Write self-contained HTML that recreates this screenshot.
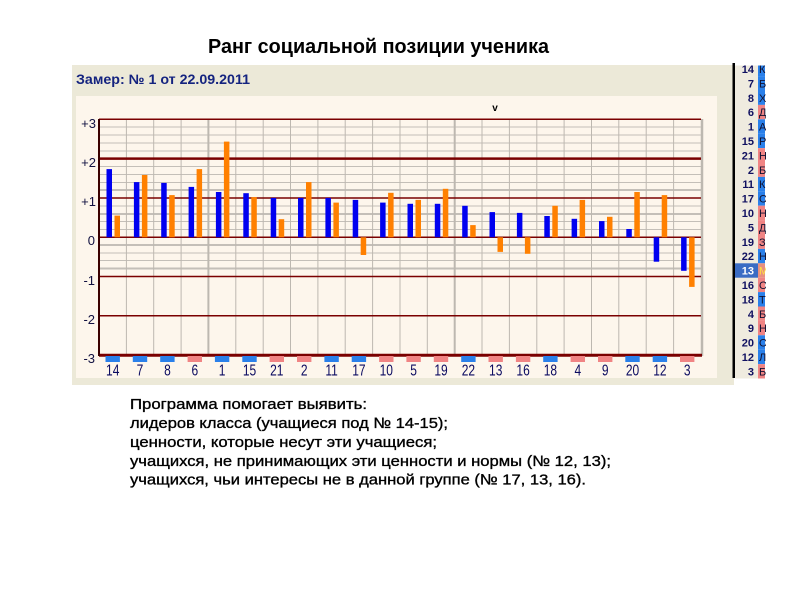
<!DOCTYPE html>
<html><head><meta charset="utf-8"><style>
html,body{margin:0;padding:0;background:#fff;}
svg{display:block;}
</style></head><body>
<svg width="800" height="600" viewBox="0 0 800 600" xmlns="http://www.w3.org/2000/svg" font-family="Liberation Sans, DejaVu Sans, sans-serif">
<rect width="800" height="600" fill="#fff"/>
<text x="208" y="53" font-size="20" font-weight="bold" fill="#000" textLength="341" lengthAdjust="spacingAndGlyphs">Ранг социальной позиции ученика</text>
<rect x="72" y="65" width="662" height="320" fill="#ECE9D8"/>
<text x="76" y="84" font-size="13.5" font-weight="bold" fill="#14237f" textLength="174" lengthAdjust="spacingAndGlyphs">Замер: № 1 от 22.09.2011</text>
<rect x="76" y="96" width="641" height="282" fill="#FDF6EC"/>
<text x="495" y="111" font-size="10" font-weight="bold" fill="#000" text-anchor="middle">v</text>
<g stroke="#C4BFB8" stroke-width="1">
<line x1="99" x2="702" y1="127" y2="127"/><line x1="99" x2="702" y1="135" y2="135"/><line x1="99" x2="702" y1="143" y2="143"/><line x1="99" x2="702" y1="151" y2="151"/>
<line x1="99" x2="702" y1="166.5" y2="166.5"/><line x1="99" x2="702" y1="174.5" y2="174.5"/><line x1="99" x2="702" y1="182.5" y2="182.5"/><line x1="99" x2="702" y1="190" y2="190" stroke-width="2"/>
<line x1="99" x2="702" y1="206" y2="206"/><line x1="99" x2="702" y1="214" y2="214" stroke-width="2"/><line x1="99" x2="702" y1="221.5" y2="221.5"/><line x1="99" x2="702" y1="229.5" y2="229.5"/>
<line x1="99" x2="702" y1="245" y2="245" stroke-width="2"/><line x1="99" x2="702" y1="253" y2="253"/><line x1="99" x2="702" y1="260.5" y2="260.5"/><line x1="99" x2="702" y1="268.5" y2="268.5" stroke-width="2"/>
</g>
<g stroke="#BDB8B0" stroke-width="1">
<line x1="126.4" x2="126.4" y1="119" y2="355"/><line x1="153.7" x2="153.7" y1="119" y2="355"/><line x1="181.1" x2="181.1" y1="119" y2="355"/><line x1="208.4" x2="208.4" y1="119" y2="355" stroke-width="2"/><line x1="235.8" x2="235.8" y1="119" y2="355"/><line x1="263.2" x2="263.2" y1="119" y2="355"/><line x1="290.5" x2="290.5" y1="119" y2="355"/><line x1="317.9" x2="317.9" y1="119" y2="355"/><line x1="345.2" x2="345.2" y1="119" y2="355"/><line x1="372.6" x2="372.6" y1="119" y2="355"/><line x1="400" x2="400" y1="119" y2="355"/><line x1="427.3" x2="427.3" y1="119" y2="355"/><line x1="454.7" x2="454.7" y1="119" y2="355" stroke-width="2"/><line x1="482" x2="482" y1="119" y2="355"/><line x1="509.4" x2="509.4" y1="119" y2="355"/><line x1="536.8" x2="536.8" y1="119" y2="355"/><line x1="564.1" x2="564.1" y1="119" y2="355"/><line x1="591.5" x2="591.5" y1="119" y2="355"/><line x1="618.8" x2="618.8" y1="119" y2="355"/><line x1="646.2" x2="646.2" y1="119" y2="355"/><line x1="673.6" x2="673.6" y1="119" y2="355"/><line x1="702" x2="702" y1="119" y2="356" stroke-width="2.5"/>
</g>
<g stroke="#7A0000">
<line x1="99" x2="701" y1="119.3" y2="119.3" stroke-width="1.5"/>
<line x1="99" x2="701" y1="158.6" y2="158.6" stroke-width="2.5"/>
<line x1="99" x2="701" y1="198" y2="198" stroke-width="1.5"/>
<line x1="99" x2="701" y1="237.3" y2="237.3" stroke-width="1.5"/>
<line x1="99" x2="701" y1="276.5" y2="276.5" stroke-width="1.5"/>
<line x1="99" x2="701" y1="315.8" y2="315.8" stroke-width="1.5"/>
<line x1="99" x2="702" y1="355.3" y2="355.3" stroke-width="3"/>
</g>
<line x1="99" x2="99" y1="119" y2="356" stroke="#3a0000" stroke-width="2"/>
<g fill="#0000F0">
<rect x="106.5" y="169.1" width="5.5" height="68.2"/>
<rect x="133.9" y="182.1" width="5.5" height="55.2"/>
<rect x="161.2" y="182.9" width="5.5" height="54.4"/>
<rect x="188.6" y="186.9" width="5.5" height="50.4"/>
<rect x="215.9" y="192" width="5.5" height="45.3"/>
<rect x="243.3" y="193.2" width="5.5" height="44.1"/>
<rect x="270.7" y="197.9" width="5.5" height="39.4"/>
<rect x="298" y="197.9" width="5.5" height="39.4"/>
<rect x="325.4" y="197.9" width="5.5" height="39.4"/>
<rect x="352.7" y="199.9" width="5.5" height="37.4"/>
<rect x="380.1" y="202.6" width="5.5" height="34.7"/>
<rect x="407.5" y="203.8" width="5.5" height="33.5"/>
<rect x="434.8" y="203.8" width="5.5" height="33.5"/>
<rect x="462.2" y="205.8" width="5.5" height="31.5"/>
<rect x="489.5" y="212.1" width="5.5" height="25.2"/>
<rect x="516.9" y="212.9" width="5.5" height="24.4"/>
<rect x="544.3" y="216" width="5.5" height="21.3"/>
<rect x="571.6" y="218.8" width="5.5" height="18.5"/>
<rect x="599" y="221.1" width="5.5" height="16.2"/>
<rect x="626.3" y="229" width="5.5" height="8.3"/>
<rect x="653.7" y="237.3" width="5.5" height="24.4"/>
<rect x="681.1" y="237.3" width="5.5" height="33.5"/>
</g>
<g fill="#FF8000">
<rect x="114.5" y="215.6" width="5.5" height="21.7"/>
<rect x="141.9" y="175" width="5.5" height="62.3"/>
<rect x="169.2" y="195.1" width="5.5" height="42.2"/>
<rect x="196.6" y="169.1" width="5.5" height="68.2"/>
<rect x="223.9" y="141.6" width="5.5" height="95.7"/>
<rect x="251.3" y="197.1" width="5.5" height="40.2"/>
<rect x="278.7" y="219.2" width="5.5" height="18.1"/>
<rect x="306" y="182.1" width="5.5" height="55.2"/>
<rect x="333.4" y="202.6" width="5.5" height="34.7"/>
<rect x="360.7" y="237.3" width="5.5" height="17.7"/>
<rect x="388.1" y="192.8" width="5.5" height="44.5"/>
<rect x="415.5" y="199.9" width="5.5" height="37.4"/>
<rect x="442.8" y="188.8" width="5.5" height="48.5"/>
<rect x="470.2" y="225.1" width="5.5" height="12.2"/>
<rect x="497.5" y="237.3" width="5.5" height="14.6"/>
<rect x="524.9" y="237.3" width="5.5" height="16.5"/>
<rect x="552.3" y="205.8" width="5.5" height="31.5"/>
<rect x="579.6" y="199.9" width="5.5" height="37.4"/>
<rect x="607" y="216.8" width="5.5" height="20.5"/>
<rect x="634.3" y="192" width="5.5" height="45.3"/>
<rect x="661.7" y="195.1" width="5.5" height="42.2"/>
<rect x="689.1" y="237.3" width="5.5" height="49.6"/>
</g>
<g font-size="13" fill="#101040" text-anchor="end">
<text x="96" y="128">+3</text>
<text x="96" y="167">+2</text>
<text x="96" y="206">+1</text>
<text x="95" y="245">0</text>
<text x="95" y="285">-1</text>
<text x="95" y="324">-2</text>
<text x="95" y="363">-3</text>
</g>
<g>
<rect x="105.5" y="356" width="14.4" height="6" fill="#2A80EA"/>
<rect x="132.8" y="356" width="14.4" height="6" fill="#2A80EA"/>
<rect x="160.2" y="356" width="14.4" height="6" fill="#2A80EA"/>
<rect x="187.6" y="356" width="14.4" height="6" fill="#F08484"/>
<rect x="214.9" y="356" width="14.4" height="6" fill="#2A80EA"/>
<rect x="242.3" y="356" width="14.4" height="6" fill="#2A80EA"/>
<rect x="269.6" y="356" width="14.4" height="6" fill="#F08484"/>
<rect x="297" y="356" width="14.4" height="6" fill="#F08484"/>
<rect x="324.4" y="356" width="14.4" height="6" fill="#2A80EA"/>
<rect x="351.7" y="356" width="14.4" height="6" fill="#2A80EA"/>
<rect x="379.1" y="356" width="14.4" height="6" fill="#F08484"/>
<rect x="406.4" y="356" width="14.4" height="6" fill="#F08484"/>
<rect x="433.8" y="356" width="14.4" height="6" fill="#F08484"/>
<rect x="461.2" y="356" width="14.4" height="6" fill="#2A80EA"/>
<rect x="488.5" y="356" width="14.4" height="6" fill="#F08484"/>
<rect x="515.9" y="356" width="14.4" height="6" fill="#F08484"/>
<rect x="543.2" y="356" width="14.4" height="6" fill="#2A80EA"/>
<rect x="570.6" y="356" width="14.4" height="6" fill="#F08484"/>
<rect x="598" y="356" width="14.4" height="6" fill="#F08484"/>
<rect x="625.3" y="356" width="14.4" height="6" fill="#2A80EA"/>
<rect x="652.7" y="356" width="14.4" height="6" fill="#2A80EA"/>
<rect x="680" y="356" width="14.4" height="6" fill="#F08484"/>
</g>
<g font-size="16" fill="#0A0A60" text-anchor="middle">
<text transform="translate(112.7,375.5) scale(0.75,1)">14</text>
<text transform="translate(140,375.5) scale(0.75,1)">7</text>
<text transform="translate(167.4,375.5) scale(0.75,1)">8</text>
<text transform="translate(194.8,375.5) scale(0.75,1)">6</text>
<text transform="translate(222.1,375.5) scale(0.75,1)">1</text>
<text transform="translate(249.5,375.5) scale(0.75,1)">15</text>
<text transform="translate(276.8,375.5) scale(0.75,1)">21</text>
<text transform="translate(304.2,375.5) scale(0.75,1)">2</text>
<text transform="translate(331.6,375.5) scale(0.75,1)">11</text>
<text transform="translate(358.9,375.5) scale(0.75,1)">17</text>
<text transform="translate(386.3,375.5) scale(0.75,1)">10</text>
<text transform="translate(413.6,375.5) scale(0.75,1)">5</text>
<text transform="translate(441,375.5) scale(0.75,1)">19</text>
<text transform="translate(468.4,375.5) scale(0.75,1)">22</text>
<text transform="translate(495.7,375.5) scale(0.75,1)">13</text>
<text transform="translate(523.1,375.5) scale(0.75,1)">16</text>
<text transform="translate(550.4,375.5) scale(0.75,1)">18</text>
<text transform="translate(577.8,375.5) scale(0.75,1)">4</text>
<text transform="translate(605.2,375.5) scale(0.75,1)">9</text>
<text transform="translate(632.5,375.5) scale(0.75,1)">20</text>
<text transform="translate(659.9,375.5) scale(0.75,1)">12</text>
<text transform="translate(687.2,375.5) scale(0.75,1)">3</text>
</g>
<defs><clipPath id="lc"><rect x="733" y="65.5" width="33" height="313"/></clipPath></defs>
<g clip-path="url(#lc)">
<rect x="735" y="61" width="23" height="318" fill="#EFEBDF"/>
<rect x="758" y="61.7" width="7" height="14.4" fill="#2A80EA"/>
<rect x="758" y="76.1" width="7" height="14.4" fill="#2A80EA"/>
<rect x="758" y="90.5" width="7" height="14.4" fill="#2A80EA"/>
<rect x="758" y="104.9" width="7" height="14.4" fill="#F08484"/>
<rect x="758" y="119.3" width="7" height="14.4" fill="#2A80EA"/>
<rect x="758" y="133.7" width="7" height="14.4" fill="#2A80EA"/>
<rect x="758" y="148.1" width="7" height="14.4" fill="#F08484"/>
<rect x="758" y="162.5" width="7" height="14.4" fill="#F08484"/>
<rect x="758" y="176.9" width="7" height="14.4" fill="#2A80EA"/>
<rect x="758" y="191.3" width="7" height="14.4" fill="#2A80EA"/>
<rect x="758" y="205.7" width="7" height="14.4" fill="#F08484"/>
<rect x="758" y="220.1" width="7" height="14.4" fill="#F08484"/>
<rect x="758" y="234.5" width="7" height="14.4" fill="#F08484"/>
<rect x="758" y="248.9" width="7" height="14.4" fill="#2A80EA"/>
<rect x="735" y="263.3" width="23" height="14.4" fill="#3A6CC4"/>
<rect x="758" y="263.3" width="7" height="14.4" fill="#E89080"/>
<rect x="758" y="277.7" width="7" height="14.4" fill="#F08484"/>
<rect x="758" y="292.1" width="7" height="14.4" fill="#2A80EA"/>
<rect x="758" y="306.5" width="7" height="14.4" fill="#F08484"/>
<rect x="758" y="320.9" width="7" height="14.4" fill="#F08484"/>
<rect x="758" y="335.3" width="7" height="14.4" fill="#2A80EA"/>
<rect x="758" y="349.7" width="7" height="14.4" fill="#2A80EA"/>
<rect x="758" y="364.1" width="7" height="14.4" fill="#F08484"/>
<g font-size="11" font-weight="bold" fill="#101060" text-anchor="end">
<text x="754" y="73">14</text><text x="754" y="87.4">7</text><text x="754" y="101.8">8</text><text x="754" y="116.2">6</text><text x="754" y="130.6">1</text><text x="754" y="145">15</text><text x="754" y="159.4">21</text><text x="754" y="173.8">2</text><text x="754" y="188.2">11</text><text x="754" y="202.6">17</text><text x="754" y="217">10</text><text x="754" y="231.4">5</text><text x="754" y="245.8">19</text><text x="754" y="260.2">22</text><text x="754" y="274.6" fill="#fff">13</text><text x="754" y="289">16</text><text x="754" y="303.4">18</text><text x="754" y="317.8">4</text><text x="754" y="332.2">9</text><text x="754" y="346.6">20</text><text x="754" y="361">12</text><text x="754" y="375.4">3</text>
</g>
<g font-size="11" fill="#101030">
<text x="759" y="73">К</text><text x="759" y="87.4">Б</text><text x="759" y="101.8">Х</text><text x="759" y="116.2">Д</text><text x="759" y="130.6">А</text><text x="759" y="145">Р</text><text x="759" y="159.4">Н</text><text x="759" y="173.8">Б</text><text x="759" y="188.2">К</text><text x="759" y="202.6">О</text><text x="759" y="217">Н</text><text x="759" y="231.4">Д</text><text x="759" y="245.8">З</text><text x="759" y="260.2">Н</text><text x="759" y="274.6" fill="#FFE040">М</text><text x="759" y="289">О</text><text x="759" y="303.4">Т</text><text x="759" y="317.8">Б</text><text x="759" y="332.2">Н</text><text x="759" y="346.6">О</text><text x="759" y="361">Л</text><text x="759" y="375.4">Б</text>
</g>
</g>
<rect x="732.5" y="63" width="2.5" height="315" fill="#000"/>
<g font-size="15" fill="#000" stroke="#000" stroke-width="0.35">
<text x="130" y="409" textLength="237" lengthAdjust="spacingAndGlyphs">Программа помогает выявить:</text>
<text x="130" y="428" textLength="318" lengthAdjust="spacingAndGlyphs">лидеров класса (учащиеся под № 14-15);</text>
<text x="130" y="447" textLength="307" lengthAdjust="spacingAndGlyphs">ценности, которые несут эти учащиеся;</text>
<text x="130" y="466" textLength="481" lengthAdjust="spacingAndGlyphs">учащихся, не принимающих эти ценности и нормы (№ 12, 13);</text>
<text x="130" y="484.5" textLength="456" lengthAdjust="spacingAndGlyphs">учащихся, чьи интересы не в данной группе (№ 17, 13, 16).</text>
</g>
</svg>
</body></html>
